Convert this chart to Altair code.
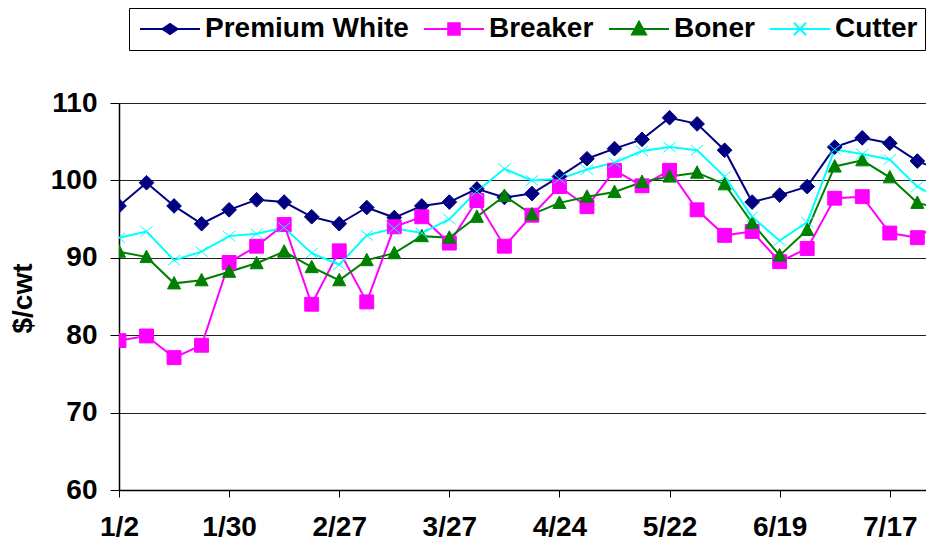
import altair as alt
import pandas as pd

# ---- data ----
dates = [
    "2009-01-02", "2009-01-09", "2009-01-16", "2009-01-23", "2009-01-30",
    "2009-02-06", "2009-02-13", "2009-02-20", "2009-02-27", "2009-03-06",
    "2009-03-13", "2009-03-20", "2009-03-27", "2009-04-03", "2009-04-10",
    "2009-04-17", "2009-04-24", "2009-05-01", "2009-05-08", "2009-05-15",
    "2009-05-22", "2009-05-29", "2009-06-05", "2009-06-12", "2009-06-19",
    "2009-06-26", "2009-07-03", "2009-07-10", "2009-07-17", "2009-07-24",
    "2009-07-31",
]
premium_white = [96.7, 99.7, 96.7, 94.4, 96.2, 97.5, 97.2, 95.3, 94.4, 96.5,
                 95.2, 96.7, 97.2, 98.9, 97.8, 98.3, 100.5, 102.8, 104.1, 105.3,
                 108.1, 107.3, 103.9, 97.2, 98.1, 99.2, 104.3, 105.5, 104.8, 102.5,
                 101.1]
breaker = [79.3, 79.9, 77.1, 78.7, 89.4, 91.5, 94.3, 84.0, 90.9, 84.3,
           94.0, 95.3, 91.9, 97.4, 91.5, 95.5, 99.2, 96.6, 101.3, 99.3,
           101.3, 96.2, 92.9, 93.4, 89.5, 91.2, 97.7, 97.9, 93.2, 92.6,
           95.0]
boner = [90.8, 90.1, 86.7, 87.1, 88.2, 89.3, 90.8, 88.8, 87.1, 89.7,
         90.6, 92.8, 92.6, 95.3, 98.0, 95.6, 97.1, 97.9, 98.5, 99.8,
         100.5, 101.0, 99.5, 94.5, 90.3, 93.6, 101.8, 102.6, 100.4, 97.1,
         96.2]
cutter = [92.6, 93.4, 89.7, 90.8, 92.8, 93.1, 93.9, 90.6, 89.1, 92.9,
          93.8, 93.2, 95.0, 98.6, 101.5, 100.0, 100.2, 101.4, 102.3, 103.8,
          104.3, 103.9, 100.5, 95.3, 92.2, 94.6, 104.0, 103.4, 102.7, 99.2,
          97.3]

series_names = ["Premium White", "Breaker", "Boner", "Cutter"]
series_colors = ["#000080", "#FF00FF", "#008000", "#00FFFF"]
tick_dates = [(2009, 1, 2), (2009, 1, 30), (2009, 2, 27), (2009, 3, 27),
              (2009, 4, 24), (2009, 5, 22), (2009, 6, 19), (2009, 7, 17)]
y_ticks = [60, 70, 80, 90, 100, 110]

# marker shapes (plot) and line+marker shapes (legend)
marker_shapes = [
    "diamond",
    "square",
    "M0,-1.05L1,0.85L-1,0.85Z",
    "M-1,-0.85L1,0.85M-1,0.85L1,-0.85",
]
marker_sizes = [215, 150, 160, 225]
marker_strokes = [1, 1, 1, 2]
legend_shapes = [
    "M-1,0H5M1.25,0L2,-0.5L2.75,0L2,0.5Z",
    "M-1,0H5M1.42,-0.58H2.58V0.58H1.42Z",
    "M-1,0H5M2,-0.72L2.7,0.55L1.3,0.55Z",
    "M-1,0H5M1.4,-0.62L2.6,0.62M1.4,0.62L2.6,-0.62",
]

rows = []
for name, vals in zip(series_names, [premium_white, breaker, boner, cutter]):
    for d, v in zip(dates, vals):
        rows.append({"date": d, "series": name, "value": v})
df = pd.DataFrame(rows)

FONT = "Liberation Sans"

x_enc = alt.X(
    "date:T",
    scale=alt.Scale(
        type="utc",
        domain=[alt.DateTime(year=2009, month=1, date=2, utc=True),
                alt.DateTime(year=2009, month=7, date=26, hours=5, utc=True)],
    ),
    axis=alt.Axis(
        values=[alt.DateTime(year=y, month=m, date=d, utc=True) for y, m, d in tick_dates],
        format="%-m/%-d",
        title=None,
        grid=False,
        domainColor="black",
        domainWidth=1.5,
        tickColor="black",
        tickSize=7,
        labelFont=FONT,
        labelFontSize=28,
        labelFontWeight="bold",
        labelColor="black",
        labelPadding=16,
        labelFlush=False,
        labelOverlap=False,
    ),
)
y_enc = alt.Y(
    "value:Q",
    scale=alt.Scale(domain=[60, 110], nice=False, zero=False),
    axis=alt.Axis(
        values=y_ticks,
        title="$/cwt",
        titleFont=FONT,
        titleFontSize=28,
        titleFontWeight="bold",
        titleColor="black",
        titleX=-96,
        titleY=195,
        titleAngle=270,
        titleAlign="center",
        titleBaseline="middle",
        grid=True,
        gridColor="#222222",
        gridWidth=1.2,
        domainColor="black",
        domainWidth=1.5,
        tickColor="black",
        tickSize=9,
        labelFont=FONT,
        labelFontSize=28,
        labelFontWeight="bold",
        labelColor="black",
        labelPadding=13,
        labelFlush=False,
    ),
)

color_scale = alt.Scale(domain=series_names, range=series_colors)

lines = alt.Chart(df).mark_line(strokeWidth=2, clip=True).encode(
    x=x_enc,
    y=y_enc,
    color=alt.Color("series:N", scale=color_scale, legend=None),
    order=alt.Order("date:T"),
)

points = alt.Chart(df).mark_point(filled=True, opacity=1, clip=True).encode(
    x=x_enc,
    y=y_enc,
    fill=alt.Fill("series:N", scale=color_scale, legend=None),
    stroke=alt.Stroke("series:N", scale=color_scale, legend=None),
    shape=alt.Shape("series:N", scale=alt.Scale(domain=series_names, range=marker_shapes), legend=None),
    size=alt.Size("series:N", scale=alt.Scale(domain=series_names, range=marker_sizes), legend=None),
    strokeWidth=alt.StrokeWidth("series:N", scale=alt.Scale(domain=series_names, range=marker_strokes), legend=None),
)

leg = alt.Legend(
    title=None,
    orient="none",
    legendX=10,
    legendY=-95,
    direction="horizontal",
    labelFont=FONT,
    labelFontSize=28,
    labelFontWeight="bold",
    labelColor="black",
    labelLimit=400,
    labelOffset=41,
    columnPadding=11,
    symbolSize=400,
    symbolStrokeWidth=2,
    symbolOffset=0,
    padding=7,
    strokeColor="black",
    fillColor="white",
)

legend_layer = alt.Chart(df).transform_filter("false").mark_point(
    filled=True, opacity=1, size=400, strokeWidth=2
).encode(
    x=x_enc,
    y=y_enc,
    fill=alt.Fill("series:N", scale=color_scale, legend=leg),
    stroke=alt.Stroke("series:N", scale=color_scale, legend=leg),
    shape=alt.Shape("series:N", scale=alt.Scale(domain=series_names, range=legend_shapes), legend=leg),
)

chart = alt.layer(lines, points, legend_layer).resolve_scale(
    shape="independent", fill="independent", stroke="independent"
).properties(
    width=807,
    height=387,
    autosize=alt.AutoSizeParams(type="none"),
    padding={"left": 111, "top": 95, "right": 0, "bottom": 50},
    background="white",
).configure_view(stroke=None)

chart.save("out.html", embed_options={"renderer": "svg", "actions": False})
